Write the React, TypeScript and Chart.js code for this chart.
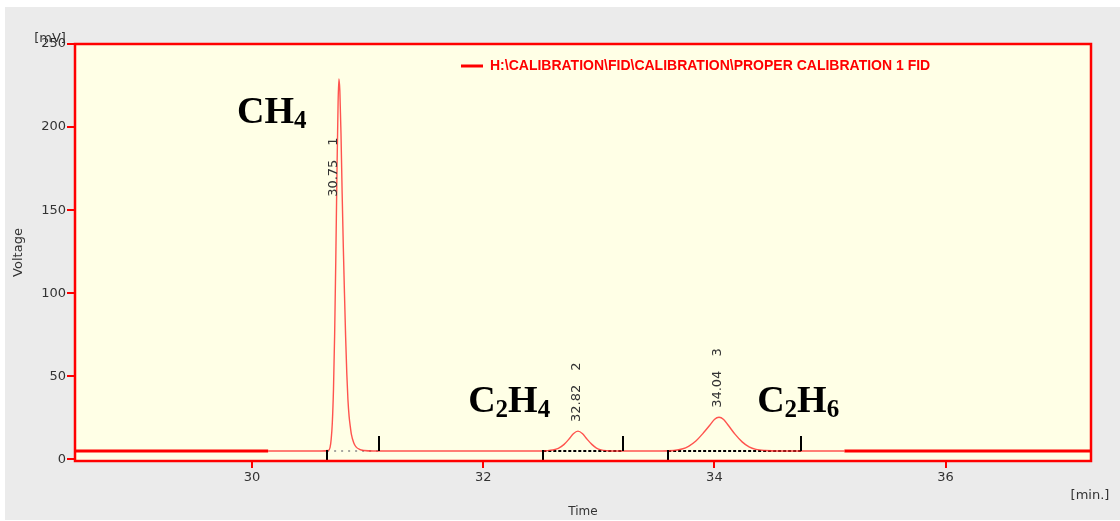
import React, { useEffect, useRef } from 'react';
import { Chart, registerables } from 'chart.js';

Chart.register(...registerables);

// ---- data ----
const signalTime = [30.14, 30.40, 30.60, 30.66, 30.675, 30.685, 30.695, 30.705, 30.715, 30.725,
  30.735, 30.745, 30.752, 30.76, 30.77, 30.78, 30.79, 30.80, 30.81, 30.82,
  30.83, 30.84, 30.85, 30.86, 30.88, 30.90, 30.93, 30.97, 31.05, 31.50,
  32.00, 32.50, 32.55, 32.60, 32.65, 32.70, 32.74, 32.78, 32.82, 32.86,
  32.90, 32.94, 32.98, 33.02, 33.07, 33.15, 33.40, 33.55, 33.65, 33.72,
  33.78, 33.84, 33.90, 33.96, 34.00, 34.04, 34.08, 34.12, 34.18, 34.24,
  34.30, 34.36, 34.44, 34.55, 34.80, 35.125];
const signalVoltage = [5, 5, 5, 5.3, 7, 12, 22, 42, 75, 120,
  172, 215, 229, 222, 196, 160, 128, 100, 74, 52,
  36, 26, 20, 15, 10, 7.5, 6, 5.3, 5, 5,
  5, 5, 5.2, 5.6, 6.6, 9.0, 12.0, 15.4, 17, 15.4,
  12, 9, 6.8, 5.7, 5.2, 5, 5, 5, 5.3, 6.2,
  8.0, 11, 15.5, 20.5, 24, 25.3, 24, 20.5, 15, 10.5,
  7.5, 6, 5.3, 5, 5, 5];

const baselineLevel = 5;
const traceStart = 30.14;
const traceEnd = 35.125;

const peakTimes = [30.75, 32.82, 34.04];
const peakNumbers = ['1', '2', '3'];
const peakStart = [30.65, 32.52, 33.60];
const peakEnd = [31.10, 33.21, 34.75];

const xTicks = [30, 32, 34, 36];
const yTicks = [0, 50, 100, 150, 200, 250];
const xMin = 28.469;
const xMax = 37.258;
const yMin = -1;
const yMax = 250;

const legendText = 'H:\\CALIBRATION\\FID\\CALIBRATION\\PROPER CALIBRATION 1 FID';
const compoundNames = ['CH4', 'C2H4', 'C2H6'];

// ---- annotation placement (data coordinates) ----
const peakLabelAt = [
  { t: 30.71, v: 158 },
  { t: 32.81, v: 22.5 },
  { t: 34.025, v: 31 },
];
const compoundAt = [
  { t: 29.87, v: 202.5 },
  { t: 31.87, v: 28.5 },
  { t: 34.37, v: 28.5 },
];

const RED = '#ff0000';
const TXT = '#333333';
const SANS = '"DejaVu Sans", sans-serif';

const decor = {
  id: 'decor',
  beforeDraw(chart: any) {
    const { ctx, chartArea: a, width, height } = chart;
    ctx.save();
    ctx.fillStyle = '#ffffff';
    ctx.fillRect(0, 0, width, height);
    ctx.fillStyle = '#ebebeb';
    ctx.fillRect(5, 7, width - 5, height - 8);
    ctx.fillStyle = '#ffffe6';
    ctx.fillRect(a.left, a.top, a.right - a.left, a.bottom - a.top);
    ctx.restore();
  },
  afterDraw(chart: any) {
    const { ctx, chartArea: a } = chart;
    const xs = chart.scales.x;
    const ys = chart.scales.y;
    ctx.save();

    // peak start / end markers
    const by = ys.getPixelForValue(baselineLevel);
    ctx.strokeStyle = '#000';
    ctx.lineWidth = 2;
    peakStart.forEach((t) => {
      const px = Math.round(xs.getPixelForValue(t));
      ctx.beginPath();
      ctx.moveTo(px, by - 1);
      ctx.lineTo(px, a.bottom);
      ctx.stroke();
    });
    peakEnd.forEach((t) => {
      const px = Math.round(xs.getPixelForValue(t));
      ctx.beginPath();
      ctx.moveTo(px, by);
      ctx.lineTo(px, by - 15);
      ctx.stroke();
    });

    // frame
    ctx.strokeStyle = RED;
    ctx.lineWidth = 2.5;
    ctx.strokeRect(a.left, a.top, a.right - a.left, a.bottom - a.top);

    // rotated peak labels
    ctx.fillStyle = TXT;
    ctx.font = `13px ${SANS}`;
    ctx.textBaseline = 'middle';
    ctx.textAlign = 'left';
    peakTimes.forEach((t, i) => {
      const px = xs.getPixelForValue(peakLabelAt[i].t);
      const py = ys.getPixelForValue(peakLabelAt[i].v);
      const num = t.toFixed(2);
      ctx.save();
      ctx.translate(px, py);
      ctx.rotate(-Math.PI / 2);
      ctx.fillText(num, 0, 0);
      const w = ctx.measureText(num).width;
      ctx.fillText(peakNumbers[i], w + 14, 0);
      ctx.restore();
    });

    // compound names with subscripts
    ctx.fillStyle = '#000';
    ctx.textBaseline = 'alphabetic';
    compoundNames.forEach((name, i) => {
      let x = xs.getPixelForValue(compoundAt[i].t);
      const y = ys.getPixelForValue(compoundAt[i].v);
      for (const ch of name) {
        const sub = /[0-9]/.test(ch);
        ctx.font = sub ? 'bold 25px "Liberation Serif", serif' : 'bold 38px "Liberation Serif", serif';
        ctx.fillText(ch, x, sub ? y + 5 : y);
        x += ctx.measureText(ch).width;
      }
    });

    // legend
    ctx.strokeStyle = RED;
    ctx.lineWidth = 3;
    ctx.beginPath();
    ctx.moveTo(461, 66);
    ctx.lineTo(483, 66);
    ctx.stroke();
    ctx.fillStyle = RED;
    ctx.font = 'bold 14px "Liberation Sans", Arial, sans-serif';
    ctx.textBaseline = 'middle';
    ctx.textAlign = 'left';
    ctx.fillText(legendText, 490, 66);

    // unit labels
    ctx.fillStyle = TXT;
    ctx.font = `13px ${SANS}`;
    ctx.textAlign = 'center';
    ctx.fillText('[mV]', 50, 39);
    ctx.fillText('[min.]', 1090, 496);

    ctx.restore();
  },
};

export default function App() {
  const ref = useRef<HTMLCanvasElement | null>(null);

  useEffect(() => {
    if (!ref.current) return;
    const signal = signalTime.map((t, i) => ({ x: t, y: signalVoltage[i] }));
    const chart = new Chart(ref.current, {
      type: 'line',
      data: {
        datasets: [
          {
            label: legendText,
            data: signal,
            borderColor: 'rgba(255,40,40,0.8)',
            borderWidth: 1.4,
            pointRadius: 0,
            cubicInterpolationMode: 'monotone',
            fill: false,
          },
          {
            label: 'trace-left',
            data: [{ x: xMin, y: baselineLevel }, { x: traceStart, y: baselineLevel }],
            borderColor: RED,
            borderWidth: 3,
            pointRadius: 0,
          },
          {
            label: 'trace-right',
            data: [{ x: traceEnd, y: baselineLevel }, { x: xMax, y: baselineLevel }],
            borderColor: RED,
            borderWidth: 3,
            pointRadius: 0,
          },
          {
            label: 'base-1',
            data: [{ x: peakStart[0], y: baselineLevel }, { x: peakEnd[0], y: baselineLevel }],
            borderColor: '#8a8a8a',
            borderWidth: 1.5,
            borderDash: [2, 5],
            pointRadius: 0,
          },
          {
            label: 'base-2',
            data: [{ x: peakStart[1], y: baselineLevel }, { x: peakEnd[1], y: baselineLevel }],
            borderColor: '#000',
            borderWidth: 2,
            borderDash: [3, 2],
            pointRadius: 0,
          },
          {
            label: 'base-3',
            data: [{ x: peakStart[2], y: baselineLevel }, { x: peakEnd[2], y: baselineLevel }],
            borderColor: '#000',
            borderWidth: 2,
            borderDash: [3, 2],
            pointRadius: 0,
          },
        ],
      },
      options: {
        responsive: false,
        animation: false,
        layout: { padding: { top: 44, right: 29, left: 0, bottom: 0 } },
        plugins: { legend: { display: false }, tooltip: { enabled: false } },
        scales: {
          x: {
            type: 'linear',
            min: xMin,
            max: xMax,
            afterBuildTicks: (s: any) => { s.ticks = xTicks.map((v) => ({ value: v })); },
            afterFit: (s: any) => { s.height = 60; },
            grid: { drawOnChartArea: false, drawTicks: true, tickLength: 7, color: RED, lineWidth: 2 },
            border: { display: false },
            ticks: { color: TXT, font: { family: SANS, size: 13 }, padding: 2, maxRotation: 0, autoSkip: false },
            title: { display: true, text: 'Time', color: TXT, font: { family: SANS, size: 12 }, padding: { top: 0, bottom: 1.5 } },
          },
          y: {
            type: 'linear',
            min: yMin,
            max: yMax,
            afterBuildTicks: (s: any) => { s.ticks = yTicks.map((v) => ({ value: v })); },
            afterFit: (s: any) => { s.width = 75; },
            grid: { drawOnChartArea: false, drawTicks: true, tickLength: 8, color: RED, lineWidth: 2 },
            border: { display: false },
            ticks: { color: TXT, font: { family: SANS, size: 13 }, padding: 1, autoSkip: false },
            title: { display: true, text: 'Voltage', color: TXT, font: { family: SANS, size: 13 }, padding: { top: 11, bottom: 0 } },
          },
        },
      },
      plugins: [decor],
    } as any);
    return () => chart.destroy();
  }, []);

  return (
    <div style={{ position: 'absolute', left: 0, top: 0, width: 1120, height: 521 }}>
      <canvas ref={ref} width={1120} height={521} style={{ display: 'block' }} />
    </div>
  );
}
